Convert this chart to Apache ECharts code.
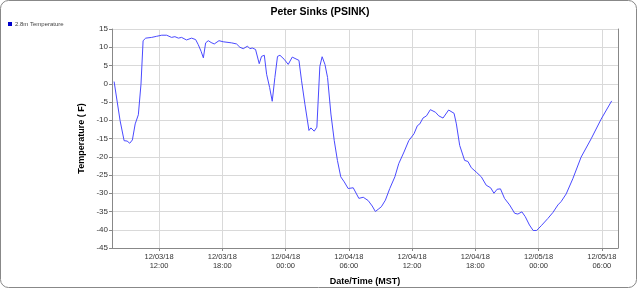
<!DOCTYPE html>
<html>
<head>
<meta charset="utf-8">
<script src="https://cdn.jsdelivr.net/npm/echarts@6/dist/echarts.min.js"></script>
<style>
html,body{margin:0;padding:0;background:#fff;}
#chart{width:640px;height:291px;}
</style>
</head>
<body>
<div id="chart"></div>
<script>
const title = 'Peter Sinks (PSINK)';
const seriesName = '2.8m Temperature';
const yAxisName = 'Temperature ( F)';
const xAxisName = 'Date/Time (MST)';
const xMin = '2018-12-03 07:32';
const xMax = '2018-12-05 07:32';
const xTicks = ['2018-12-03 12:00','2018-12-03 18:00','2018-12-04 00:00','2018-12-04 06:00',
                '2018-12-04 12:00','2018-12-04 18:00','2018-12-05 00:00','2018-12-05 06:00'];
const yTicks = [-45, -40, -35, -30, -25, -20, -15, -10, -5, 0, 5, 10, 15];

const times = [
'2018-12-03 07:44','2018-12-03 08:18','2018-12-03 08:41','2018-12-03 08:58','2018-12-03 09:13','2018-12-03 09:28',
'2018-12-03 09:44','2018-12-03 10:02','2018-12-03 10:17','2018-12-03 10:29','2018-12-03 10:44','2018-12-03 11:18',
'2018-12-03 11:46','2018-12-03 12:15','2018-12-03 12:43','2018-12-03 13:11','2018-12-03 13:30','2018-12-03 13:50',
'2018-12-03 14:08','2018-12-03 14:36','2018-12-03 15:05','2018-12-03 15:28','2018-12-03 15:43','2018-12-03 15:59',
'2018-12-03 16:12','2018-12-03 16:25','2018-12-03 16:40','2018-12-03 16:56','2018-12-03 17:14','2018-12-03 17:41',
'2018-12-03 18:05','2018-12-03 18:53','2018-12-03 19:21','2018-12-03 19:40','2018-12-03 19:59','2018-12-03 20:23',
'2018-12-03 20:37','2018-12-03 20:50','2018-12-03 21:09','2018-12-03 21:30','2018-12-03 21:43','2018-12-03 21:59',
'2018-12-03 22:12','2018-12-03 22:29','2018-12-03 22:44','2018-12-03 22:59','2018-12-03 23:14','2018-12-03 23:28',
'2018-12-03 23:52','2018-12-04 00:15','2018-12-04 00:38','2018-12-04 00:49','2018-12-04 01:16','2018-12-04 01:31',
'2018-12-04 01:50','2018-12-04 02:13','2018-12-04 02:24','2018-12-04 02:43','2018-12-04 02:58','2018-12-04 03:15',
'2018-12-04 03:28','2018-12-04 03:44','2018-12-04 03:59','2018-12-04 04:18','2018-12-04 04:37','2018-12-04 04:55',
'2018-12-04 05:14','2018-12-04 05:34','2018-12-04 05:56','2018-12-04 06:25','2018-12-04 06:57','2018-12-04 07:22',
'2018-12-04 07:50','2018-12-04 08:13','2018-12-04 08:31','2018-12-04 08:47','2018-12-04 09:05','2018-12-04 09:28',
'2018-12-04 09:53','2018-12-04 10:22','2018-12-04 10:44','2018-12-04 11:14','2018-12-04 11:41','2018-12-04 12:11',
'2018-12-04 12:30','2018-12-04 12:44','2018-12-04 13:02','2018-12-04 13:22','2018-12-04 13:44','2018-12-04 14:13',
'2018-12-04 14:32','2018-12-04 14:56','2018-12-04 15:28','2018-12-04 15:59','2018-12-04 16:12','2018-12-04 16:31',
'2018-12-04 16:59','2018-12-04 17:18','2018-12-04 17:37','2018-12-04 18:05','2018-12-04 18:34','2018-12-04 19:02',
'2018-12-04 19:27','2018-12-04 19:46','2018-12-04 20:04','2018-12-04 20:23','2018-12-04 20:46','2018-12-04 21:15',
'2018-12-04 21:44','2018-12-04 22:02','2018-12-04 22:25','2018-12-04 22:44','2018-12-04 23:08','2018-12-04 23:29',
'2018-12-04 23:49','2018-12-05 00:15','2018-12-05 00:53','2018-12-05 01:21','2018-12-05 01:50','2018-12-05 02:08',
'2018-12-05 02:37','2018-12-05 03:15','2018-12-05 04:02','2018-12-05 04:59','2018-12-05 05:56','2018-12-05 06:56'
];
const temps = [
0.6,-10.1,-15.6,-15.7,-16.3,-15.4,
-11.0,-8.5,-0.1,11.8,12.5,12.7,
13.0,13.3,13.3,12.7,12.9,12.5,
12.7,12.0,12.5,12.1,10.7,8.9,
7.1,11.2,11.8,11.3,10.9,11.8,
11.5,11.2,10.9,10.0,9.6,10.3,
9.6,9.8,9.4,5.5,7.5,7.8,
2.6,-1.0,-4.8,1.7,7.5,7.8,
6.7,5.3,7.3,7.5,6.4,0.8,
-5.6,-12.8,-12.1,-13.0,-11.9,4.8,
7.4,5.3,1.7,-8.3,-15.6,-21.0,
-25.5,-26.9,-28.7,-28.5,-31.4,-31.1,
-32.0,-33.5,-35.0,-34.4,-33.7,-31.9,
-28.7,-25.5,-21.9,-18.7,-15.6,-13.7,
-11.5,-11.0,-9.4,-8.8,-7.1,-7.8,
-8.8,-9.4,-7.2,-8.1,-11.0,-16.9,
-21.0,-21.3,-23.0,-24.2,-25.5,-27.8,
-28.5,-30.0,-28.9,-28.8,-31.4,-33.2,
-35.5,-35.7,-35.1,-36.4,-38.7,-40.2,
-40.2,-38.9,-36.9,-35.3,-33.2,-32.3,
-30.2,-26.0,-20.1,-15.1,-9.7,-4.7
];

// time strings -> hours since 2018-12-03 00:00 (pure arithmetic, no timezone issues)
function hrs(s){
  const day = parseInt(s.slice(8, 10), 10) - 3;
  const h = parseInt(s.slice(11, 13), 10), m = parseInt(s.slice(14, 16), 10);
  return day * 24 + h + m / 60;
}
function pad(n){ return (n < 10 ? '0' : '') + n; }
function fmt(v){
  const total = Math.round(v * 60);
  const day = 3 + Math.floor(total / 1440);
  const rem = total % 1440;
  return '12/' + pad(day) + '/18\n' + pad(Math.floor(rem / 60)) + ':' + pad(rem % 60);
}

const data = times.map((t, i) => [hrs(t), temps[i]]);
const tickVals = xTicks.map(hrs);
const FONT = '"Liberation Sans", Arial, sans-serif';

const chart = echarts.init(document.getElementById('chart'), null, {renderer: 'canvas'});
chart.setOption({
  animation: false,
  backgroundColor: '#fff',
  textStyle: {fontFamily: FONT},
  title: {
    text: title, left: 'center', top: 2,
    textStyle: {fontSize: 10.5, fontWeight: 'bold', color: '#000', fontFamily: FONT}
  },
  legend: {
    left: 3, top: 16, icon: 'rect', itemWidth: 4, itemHeight: 4, itemGap: 3,
    textStyle: {fontSize: 6, color: '#444', fontFamily: FONT, padding: [0,0,0,-2]},
    data: [{name: seriesName, itemStyle: {color: '#0000cc', borderWidth: 0}}]
  },
  grid: {left: 112, right: 22, top: 29, bottom: 41, containLabel: false},
  xAxis: {
    type: 'value',
    min: hrs(xMin), max: hrs(xMax),
    name: xAxisName, nameLocation: 'middle', nameGap: 29,
    nameTextStyle: {fontSize: 9, fontWeight: 'bold', color: '#000', fontFamily: FONT},
    axisLine: {onZero: false, lineStyle: {color: '#888', width: 1}},
    axisTick: {show: true, length: 3, customValues: tickVals, lineStyle: {color: '#888'}},
    axisLabel: {
      customValues: tickVals,
      formatter: fmt, fontSize: 7.5, color: '#333', lineHeight: 9.5, margin: 4,
      hideOverlap: false, fontFamily: FONT
    },
    splitLine: {show: true, lineStyle: {color: '#d9d9d9', width: 1}}
  },
  yAxis: [{
    type: 'value', min: yTicks[0], max: yTicks[yTicks.length-1], interval: yTicks[1]-yTicks[0],
    name: yAxisName, nameLocation: 'middle', nameGap: 20, nameRotate: 90,
    nameTextStyle: {fontSize: 9, fontWeight: 'bold', color: '#000', fontFamily: FONT},
    axisLine: {show: true, onZero: false, lineStyle: {color: '#888', width: 1}},
    axisTick: {show: true, length: 3, lineStyle: {color: '#888'}},
    axisLabel: {fontSize: 8, color: '#333', margin: 4, fontFamily: FONT},
    splitLine: {show: true, lineStyle: {color: '#d9d9d9', width: 1}}
  }, {
    type: 'value', position: 'right', min: yTicks[0], max: yTicks[yTicks.length-1], interval: yTicks[1]-yTicks[0],
    axisLine: {show: true, onZero: false, lineStyle: {color: '#888', width: 1}},
    axisTick: {show: false}, axisLabel: {show: false}, splitLine: {show: false}
  }],
  series: [{
    name: seriesName, type: 'line', data: data,
    showSymbol: false, symbol: 'none', smooth: false,
    itemStyle: {color: '#0000cc'},
    lineStyle: {color: '#4a4aff', width: 1}
  }],
  graphic: [{
    type: 'rect', silent: true, z: 100,
    shape: {x: 0.5, y: 0.5, width: 636, height: 287, r: 8},
    style: {fill: 'none', stroke: '#888', lineWidth: 1}
  }]
});
</script>
</body>
</html>
